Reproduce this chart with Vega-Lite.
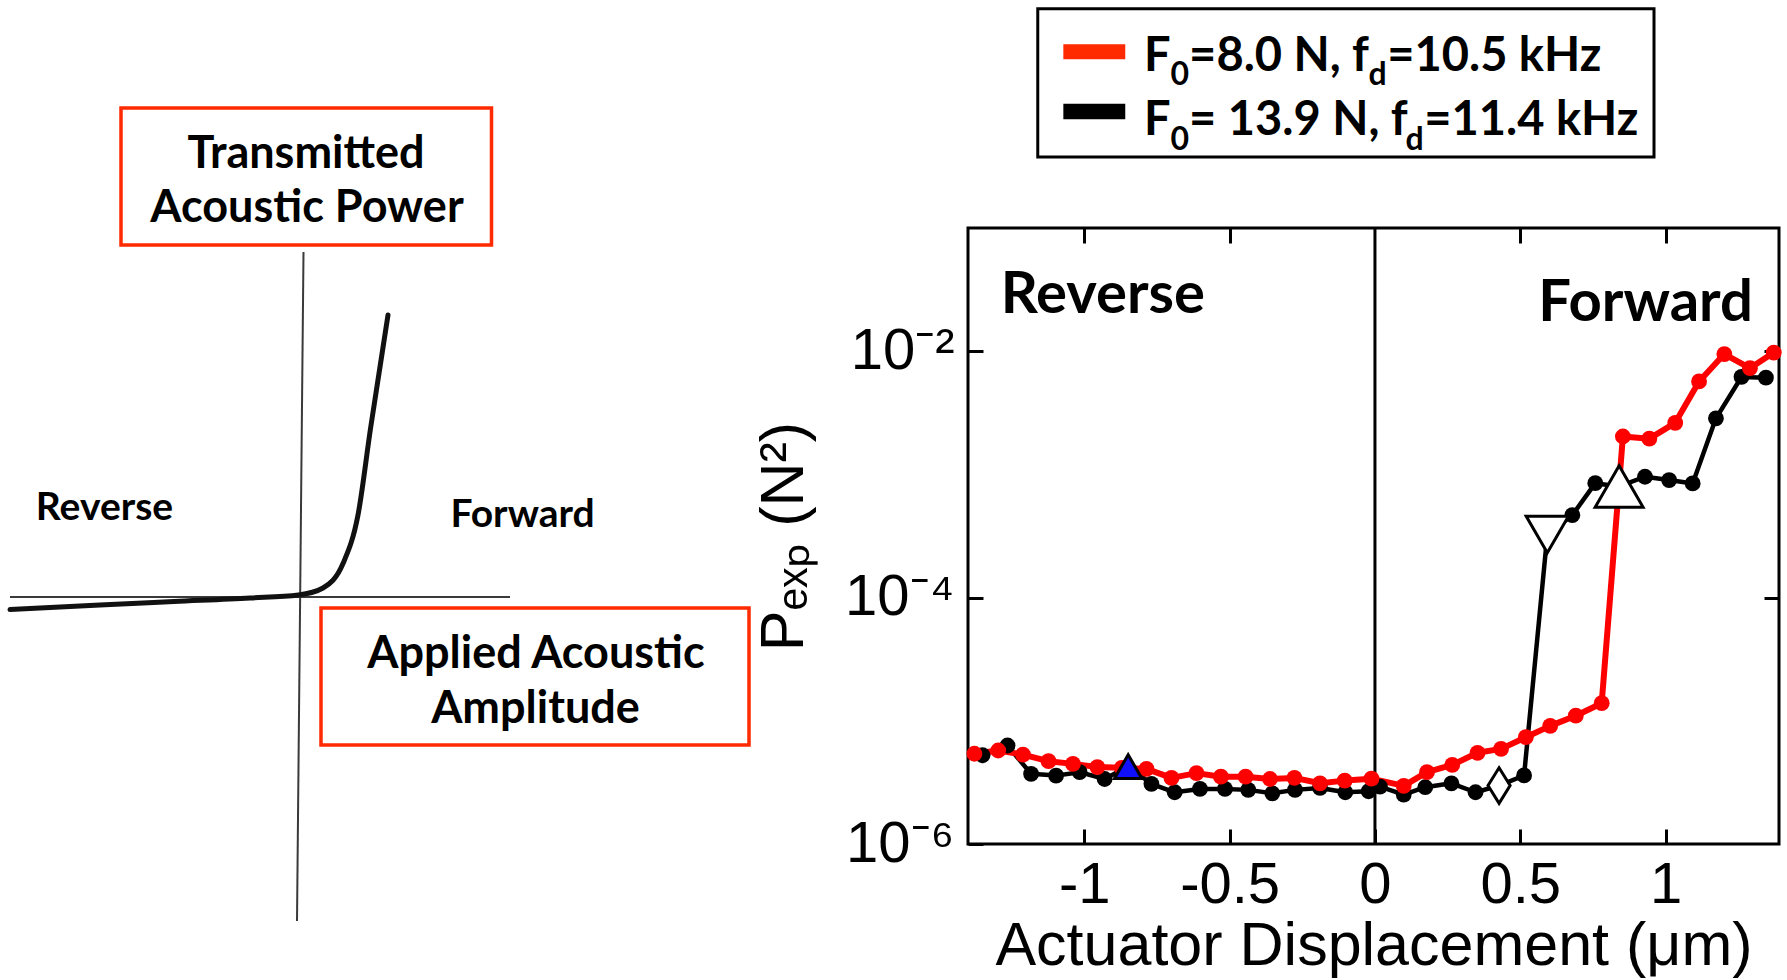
{
  "$schema": "https://vega.github.io/schema/vega-lite/v6.json",
  "background": "white",
  "padding": {"left": 0, "top": 5, "right": 0, "bottom": 0},
  "spacing": 0,
  "config": {"view": {"stroke": null}, "font": "Liberation Sans"},
  "datasets": {
    "series": [
      {"s": "13.9 N", "x": -1.350, "P": 5.25e-6, "m": "dot"},
      {"s": "13.9 N", "x": -1.264, "P": 6.30e-6, "m": "dot"},
      {"s": "13.9 N", "x": -1.183, "P": 3.71e-6, "m": "dot"},
      {"s": "13.9 N", "x": -1.097, "P": 3.59e-6, "m": "dot"},
      {"s": "13.9 N", "x": -1.016, "P": 3.83e-6, "m": "dot"},
      {"s": "13.9 N", "x": -0.930, "P": 3.37e-6, "m": "dot"},
      {"s": "13.9 N", "x": -0.849, "P": 4.25e-6, "m": "tri-blue"},
      {"s": "13.9 N", "x": -0.769, "P": 3.08e-6, "m": "dot"},
      {"s": "13.9 N", "x": -0.689, "P": 2.63e-6, "m": "dot"},
      {"s": "13.9 N", "x": -0.602, "P": 2.80e-6, "m": "dot"},
      {"s": "13.9 N", "x": -0.516, "P": 2.80e-6, "m": "dot"},
      {"s": "13.9 N", "x": -0.436, "P": 2.75e-6, "m": "dot"},
      {"s": "13.9 N", "x": -0.353, "P": 2.58e-6, "m": "dot"},
      {"s": "13.9 N", "x": -0.275, "P": 2.75e-6, "m": "dot"},
      {"s": "13.9 N", "x": -0.189, "P": 2.85e-6, "m": "dot"},
      {"s": "13.9 N", "x": -0.102, "P": 2.63e-6, "m": "dot"},
      {"s": "13.9 N", "x": -0.022, "P": 2.68e-6, "m": "dot"},
      {"s": "13.9 N", "x": 0.017, "P": 2.92e-6, "m": "dot"},
      {"s": "13.9 N", "x": 0.099, "P": 2.52e-6, "m": "dot"},
      {"s": "13.9 N", "x": 0.173, "P": 2.89e-6, "m": "dot"},
      {"s": "13.9 N", "x": 0.263, "P": 3.11e-6, "m": "dot"},
      {"s": "13.9 N", "x": 0.346, "P": 2.63e-6, "m": "dot"},
      {"s": "13.9 N", "x": 0.427, "P": 2.98e-6, "m": "diamond"},
      {"s": "13.9 N", "x": 0.513, "P": 3.60e-6, "m": "dot"},
      {"s": "13.9 N", "x": 0.593, "P": 3.25e-4, "m": "tri-down"},
      {"s": "13.9 N", "x": 0.679, "P": 4.67e-4, "m": "dot"},
      {"s": "13.9 N", "x": 0.758, "P": 8.49e-4, "m": "dot"},
      {"s": "13.9 N", "x": 0.840, "P": 7.98e-4, "m": "tri-up"},
      {"s": "13.9 N", "x": 0.929, "P": 9.57e-4, "m": "dot"},
      {"s": "13.9 N", "x": 1.012, "P": 8.99e-4, "m": "dot"},
      {"s": "13.9 N", "x": 1.093, "P": 8.45e-4, "m": "dot"},
      {"s": "13.9 N", "x": 1.173, "P": 2.85e-3, "m": "dot"},
      {"s": "13.9 N", "x": 1.261, "P": 6.18e-3, "m": "dot"},
      {"s": "13.9 N", "x": 1.345, "P": 6.10e-3, "m": "dot"},
      {"s": "8.0 N", "x": -1.378, "P": 5.40e-6, "m": "dot"},
      {"s": "8.0 N", "x": -1.296, "P": 5.74e-6, "m": "dot"},
      {"s": "8.0 N", "x": -1.211, "P": 5.32e-6, "m": "dot"},
      {"s": "8.0 N", "x": -1.123, "P": 4.70e-6, "m": "dot"},
      {"s": "8.0 N", "x": -1.039, "P": 4.47e-6, "m": "dot"},
      {"s": "8.0 N", "x": -0.955, "P": 4.21e-6, "m": "dot"},
      {"s": "8.0 N", "x": -0.871, "P": 4.15e-6, "m": "dot"},
      {"s": "8.0 N", "x": -0.786, "P": 4.07e-6, "m": "dot"},
      {"s": "8.0 N", "x": -0.700, "P": 3.44e-6, "m": "dot"},
      {"s": "8.0 N", "x": -0.614, "P": 3.76e-6, "m": "dot"},
      {"s": "8.0 N", "x": -0.530, "P": 3.52e-6, "m": "dot"},
      {"s": "8.0 N", "x": -0.445, "P": 3.52e-6, "m": "dot"},
      {"s": "8.0 N", "x": -0.361, "P": 3.37e-6, "m": "dot"},
      {"s": "8.0 N", "x": -0.277, "P": 3.44e-6, "m": "dot"},
      {"s": "8.0 N", "x": -0.189, "P": 3.11e-6, "m": "dot"},
      {"s": "8.0 N", "x": -0.104, "P": 3.27e-6, "m": "dot"},
      {"s": "8.0 N", "x": -0.012, "P": 3.39e-6, "m": "dot"},
      {"s": "8.0 N", "x": 0.099, "P": 2.96e-6, "m": "dot"},
      {"s": "8.0 N", "x": 0.179, "P": 3.83e-6, "m": "dot"},
      {"s": "8.0 N", "x": 0.266, "P": 4.39e-6, "m": "dot"},
      {"s": "8.0 N", "x": 0.353, "P": 5.50e-6, "m": "dot"},
      {"s": "8.0 N", "x": 0.434, "P": 5.92e-6, "m": "dot"},
      {"s": "8.0 N", "x": 0.519, "P": 7.36e-6, "m": "dot"},
      {"s": "8.0 N", "x": 0.603, "P": 9.10e-6, "m": "dot"},
      {"s": "8.0 N", "x": 0.691, "P": 1.10e-5, "m": "dot"},
      {"s": "8.0 N", "x": 0.780, "P": 1.39e-5, "m": "dot"},
      {"s": "8.0 N", "x": 0.853, "P": 2.03e-3, "m": "dot"},
      {"s": "8.0 N", "x": 0.944, "P": 1.95e-3, "m": "dot"},
      {"s": "8.0 N", "x": 1.033, "P": 2.62e-3, "m": "dot"},
      {"s": "8.0 N", "x": 1.115, "P": 5.68e-3, "m": "dot"},
      {"s": "8.0 N", "x": 1.202, "P": 9.48e-3, "m": "dot"},
      {"s": "8.0 N", "x": 1.290, "P": 7.28e-3, "m": "dot"},
      {"s": "8.0 N", "x": 1.372, "P": 9.75e-3, "m": "dot"}
    ],
    "sketchAxes": [
      {"a": "v", "x": 0.035, "y": 3.43},
      {"a": "v", "x": -0.03, "y": -3.26},
      {"a": "h", "x": -2.9, "y": -0.02},
      {"a": "h", "x": 2.1, "y": -0.02}
    ],
    "sketchCurve": [
      {"x": -2.9, "y": -0.146},
      {"x": -2.0, "y": -0.1},
      {"x": -1.26, "y": -0.065},
      {"x": -0.5, "y": -0.03},
      {"x": -0.015, "y": 0.0},
      {"x": 0.23, "y": 0.07},
      {"x": 0.43, "y": 0.315},
      {"x": 0.58, "y": 0.8},
      {"x": 0.706, "y": 1.67},
      {"x": 0.806, "y": 2.32},
      {"x": 0.88, "y": 2.8}
    ],
    "sketchBoxes": [
      {"x": -1.79, "x2": 1.915, "y": 4.87, "y2": 3.5},
      {"x": 0.21, "x2": 4.49, "y": -0.13, "y2": -1.5}
    ],
    "sketchBoxText": [
      {"t": "Transmitted", "x": 0.06, "y": 4.27},
      {"t": "Acoustic Power", "x": 0.07, "y": 3.73},
      {"t": "Applied Acoustic", "x": 2.36, "y": -0.726},
      {"t": "Amplitude", "x": 2.355, "y": -1.28}
    ],
    "sketchSideText": [
      {"t": "Reverse", "x": -1.955, "y": 0.75},
      {"t": "Forward", "x": 2.225, "y": 0.68}
    ],
    "regions": [
      {"t": "Reverse", "x": -0.936, "P": 0.02037},
      {"t": "Forward", "x": 0.931, "P": 0.0177}
    ],
    "legendBox": [{"x": -1.16, "x2": 0.96, "P": 6.03, "P2": 0.3777}],
    "legendSwatch": [
      {"s": "8.0 N", "x": -1.072, "x2": -0.859, "P": 3.104, "P2": 2.344},
      {"s": "13.9 N", "x": -1.072, "x2": -0.859, "P": 1.0189, "P2": 0.762}
    ],
    "legendMain": [
      {"t": "F", "x": -0.7948, "P": 1.879},
      {"t": "=8.0 N, f", "x": -0.6393, "P": 1.879},
      {"t": "=10.5 kHz", "x": 0.0421, "P": 1.879},
      {"t": "F", "x": -0.7948, "P": 0.5734},
      {"t": "= 13.9 N, f", "x": -0.6393, "P": 0.5734},
      {"t": "=11.4 kHz", "x": 0.1697, "P": 0.5734}
    ],
    "legendSub": [
      {"t": "0", "x": -0.7034, "P": 1.454},
      {"t": "d", "x": -0.0221, "P": 1.454},
      {"t": "0", "x": -0.7034, "P": 0.4331},
      {"t": "d", "x": 0.1055, "P": 0.4331}
    ]
  },
  "hconcat": [
    {
      "width": 752,
      "height": 710,
      "layer": [
        {
          "data": {"name": "sketchAxes"},
          "mark": {"type": "line", "color": "#3a3a3a", "strokeWidth": 2},
          "encoding": {
            "x": {"field": "x", "type": "quantitative", "scale": {"domain": [-3, 4.52], "nice": false, "zero": false}, "axis": null},
            "y": {"field": "y", "type": "quantitative", "scale": {"domain": [-3.43, 3.67], "nice": false, "zero": false}, "axis": null},
            "detail": {"field": "a"}
          }
        },
        {
          "data": {"name": "sketchCurve"},
          "mark": {"type": "line", "color": "#111111", "strokeWidth": 5, "interpolate": "monotone", "strokeCap": "round"},
          "encoding": {
            "x": {"field": "x", "type": "quantitative", "scale": {"domain": [-3, 4.52], "nice": false, "zero": false}, "axis": null},
            "y": {"field": "y", "type": "quantitative", "scale": {"domain": [-3.43, 3.67], "nice": false, "zero": false}, "axis": null}
          }
        },
        {
          "data": {"name": "sketchBoxes"},
          "mark": {"type": "rect", "fill": "white", "stroke": "#ff2a00", "strokeWidth": 3.5, "clip": false},
          "encoding": {
            "x": {"field": "x", "type": "quantitative", "scale": {"domain": [-3, 4.52], "nice": false, "zero": false}, "axis": null},
            "x2": {"field": "x2"},
            "y": {"field": "y", "type": "quantitative", "scale": {"domain": [-3.43, 3.67], "nice": false, "zero": false}, "axis": null},
            "y2": {"field": "y2"}
          }
        },
        {
          "data": {"name": "sketchBoxText"},
          "mark": {"type": "text", "font": "Lato", "fontWeight": "bold", "fontSize": 45, "align": "center", "baseline": "alphabetic", "color": "black", "clip": false},
          "encoding": {
            "x": {"field": "x", "type": "quantitative", "scale": {"domain": [-3, 4.52], "nice": false, "zero": false}, "axis": null},
            "y": {"field": "y", "type": "quantitative", "scale": {"domain": [-3.43, 3.67], "nice": false, "zero": false}, "axis": null},
            "text": {"field": "t"}
          }
        },
        {
          "data": {"name": "sketchSideText"},
          "mark": {"type": "text", "font": "Lato", "fontWeight": "bold", "fontSize": 39, "align": "center", "baseline": "alphabetic", "color": "black"},
          "encoding": {
            "x": {"field": "x", "type": "quantitative", "scale": {"domain": [-3, 4.52], "nice": false, "zero": false}, "axis": null},
            "y": {"field": "y", "type": "quantitative", "scale": {"domain": [-3.43, 3.67], "nice": false, "zero": false}, "axis": null},
            "text": {"field": "t"}
          }
        }
      ]
    },
    {
      "width": 811,
      "height": 616,
      "view": {"stroke": "black", "strokeWidth": 3},
      "resolve": {"axis": {"x": "independent", "y": "independent"}},
      "layer": [
        {
          "data": {"values": [{"x": 0}]},
          "mark": {"type": "rule", "color": "black", "strokeWidth": 3},
          "encoding": {
            "x": {"field": "x", "type": "quantitative", "scale": {"domain": [-1.4, 1.39], "nice": false, "zero": false},
              "axis": {"orient": "top", "values": [-1, -0.5, 0.5, 1], "labels": false, "tickSize": -15, "tickWidth": 3, "tickColor": "black", "domain": false, "grid": false, "title": null}}
          }
        },
        {
          "data": {"name": "series"},
          "mark": {"type": "line", "strokeJoin": "round"},
          "encoding": {
            "x": {"field": "x", "type": "quantitative", "scale": {"domain": [-1.4, 1.39], "nice": false, "zero": false},
              "axis": {"orient": "bottom", "values": [-1, -0.5, 0, 0.5, 1], "labelExpr": "'' + datum.value", "tickSize": -15, "tickWidth": 3, "tickColor": "black", "domain": false, "grid": false, "labelFont": "Liberation Sans", "labelFontSize": 58, "labelColor": "black", "labelPadding": 27, "labelFlush": false, "labelOverlap": false, "title": "Actuator Displacement (μm)", "titleFont": "Liberation Sans", "titleFontSize": 61, "titleFontWeight": "normal", "titleColor": "black", "titlePadding": 2}},
            "y": {"field": "P", "type": "quantitative", "scale": {"type": "log", "domain": [1e-6, 0.1], "nice": false},
              "axis": {"orient": "left", "values": [1e-6, 1e-4, 1e-2], "labelExpr": "datum.value < 1e-5 ? '10⁻⁶' : (datum.value < 1e-3 ? '10⁻⁴' : '10⁻²')", "tickSize": -15, "tickWidth": 3, "tickColor": "black", "domain": false, "grid": false, "labelFont": "Liberation Sans", "labelFontSize": 58, "labelColor": "black", "labelPadding": 29, "labelFlush": false, "labelOverlap": false, "title": "Pₑₓₚ (N²)", "titleFont": "Liberation Sans", "titleFontSize": 61, "titleFontWeight": "normal", "titleColor": "black", "titlePadding": 29}},
            "color": {"field": "s", "type": "nominal", "scale": {"domain": ["13.9 N", "8.0 N"], "range": ["#000000", "#ff0000"]}, "legend": null},
            "strokeWidth": {"field": "s", "type": "nominal", "scale": {"domain": ["13.9 N", "8.0 N"], "range": [4.5, 6]}, "legend": null}
          }
        },
        {
          "data": {"name": "series"},
          "transform": [{"filter": "datum.m == 'dot'"}],
          "mark": {"type": "point", "filled": true, "shape": "circle", "size": 250, "opacity": 1},
          "encoding": {
            "x": {"field": "x", "type": "quantitative", "scale": {"domain": [-1.4, 1.39], "nice": false, "zero": false}, "axis": null},
            "y": {"field": "P", "type": "quantitative", "scale": {"type": "log", "domain": [1e-6, 0.1], "nice": false}, "axis": null},
            "color": {"field": "s", "type": "nominal", "scale": {"domain": ["13.9 N", "8.0 N"], "range": ["#000000", "#ff0000"]}, "legend": null}
          }
        },
        {
          "data": {"name": "series"},
          "transform": [{"filter": "datum.m != 'dot'"}],
          "mark": {"type": "point", "filled": true, "stroke": "black", "strokeWidth": 3, "opacity": 1},
          "encoding": {
            "x": {"field": "x", "type": "quantitative", "scale": {"domain": [-1.4, 1.39], "nice": false, "zero": false}, "axis": null},
            "y": {"field": "P", "type": "quantitative", "scale": {"type": "log", "domain": [1e-6, 0.1], "nice": false},
              "axis": {"orient": "right", "values": [1e-4, 1e-2], "labels": false, "tickSize": -15, "tickWidth": 3, "tickColor": "black", "domain": false, "grid": false, "title": null}},
            "shape": {"field": "m", "type": "nominal", "scale": {"domain": ["tri-blue", "diamond", "tri-down", "tri-up"], "range": ["triangle-up", "M0,-1L0.62,0L0,1L-0.62,0Z", "triangle-down", "triangle-up"]}, "legend": null},
            "fill": {"field": "m", "type": "nominal", "scale": {"domain": ["tri-blue", "diamond", "tri-down", "tri-up"], "range": ["#1010ff", "white", "white", "white"]}, "legend": null},
            "size": {"field": "m", "type": "nominal", "scale": {"domain": ["tri-blue", "diamond", "tri-down", "tri-up"], "range": [750, 2300, 900, 720]}, "legend": null}
          }
        },
        {
          "data": {"name": "regions"},
          "mark": {"type": "text", "font": "Lato", "fontWeight": "bold", "fontSize": 58, "align": "center", "baseline": "alphabetic", "color": "black"},
          "encoding": {
            "x": {"field": "x", "type": "quantitative", "scale": {"domain": [-1.4, 1.39], "nice": false, "zero": false}, "axis": null},
            "y": {"field": "P", "type": "quantitative", "scale": {"type": "log", "domain": [1e-6, 0.1], "nice": false}, "axis": null},
            "text": {"field": "t"}
          }
        },
        {
          "data": {"name": "legendBox"},
          "mark": {"type": "rect", "fill": "white", "stroke": "black", "strokeWidth": 3, "clip": false},
          "encoding": {
            "x": {"field": "x", "type": "quantitative", "scale": {"domain": [-1.4, 1.39], "nice": false, "zero": false}, "axis": null},
            "x2": {"field": "x2"},
            "y": {"field": "P", "type": "quantitative", "scale": {"type": "log", "domain": [1e-6, 0.1], "nice": false}, "axis": null},
            "y2": {"field": "P2"}
          }
        },
        {
          "data": {"name": "legendSwatch"},
          "transform": [{"filter": "datum.s == '8.0 N'"}],
          "mark": {"type": "rect", "clip": false, "color": "#ff2a00"},
          "encoding": {
            "x": {"field": "x", "type": "quantitative", "scale": {"domain": [-1.4, 1.39], "nice": false, "zero": false}, "axis": null},
            "x2": {"field": "x2"},
            "y": {"field": "P", "type": "quantitative", "scale": {"type": "log", "domain": [1e-6, 0.1], "nice": false}, "axis": null},
            "y2": {"field": "P2"}
          }
        },
        {
          "data": {"name": "legendSwatch"},
          "transform": [{"filter": "datum.s == '13.9 N'"}],
          "mark": {"type": "rect", "clip": false, "color": "#000000"},
          "encoding": {
            "x": {"field": "x", "type": "quantitative", "scale": {"domain": [-1.4, 1.39], "nice": false, "zero": false}, "axis": null},
            "x2": {"field": "x2"},
            "y": {"field": "P", "type": "quantitative", "scale": {"type": "log", "domain": [1e-6, 0.1], "nice": false}, "axis": null},
            "y2": {"field": "P2"}
          }
        },
        {
          "data": {"name": "legendMain"},
          "mark": {"type": "text", "font": "Lato", "fontWeight": "bold", "fontSize": 47, "align": "left", "baseline": "alphabetic", "color": "black", "clip": false},
          "encoding": {
            "x": {"field": "x", "type": "quantitative", "scale": {"domain": [-1.4, 1.39], "nice": false, "zero": false}, "axis": null},
            "y": {"field": "P", "type": "quantitative", "scale": {"type": "log", "domain": [1e-6, 0.1], "nice": false}, "axis": null},
            "text": {"field": "t"}
          }
        },
        {
          "data": {"name": "legendSub"},
          "mark": {"type": "text", "font": "Lato", "fontWeight": "bold", "fontSize": 32, "align": "left", "baseline": "alphabetic", "color": "black", "clip": false},
          "encoding": {
            "x": {"field": "x", "type": "quantitative", "scale": {"domain": [-1.4, 1.39], "nice": false, "zero": false}, "axis": null},
            "y": {"field": "P", "type": "quantitative", "scale": {"type": "log", "domain": [1e-6, 0.1], "nice": false}, "axis": null},
            "text": {"field": "t"}
          }
        }
      ]
    }
  ]
}
